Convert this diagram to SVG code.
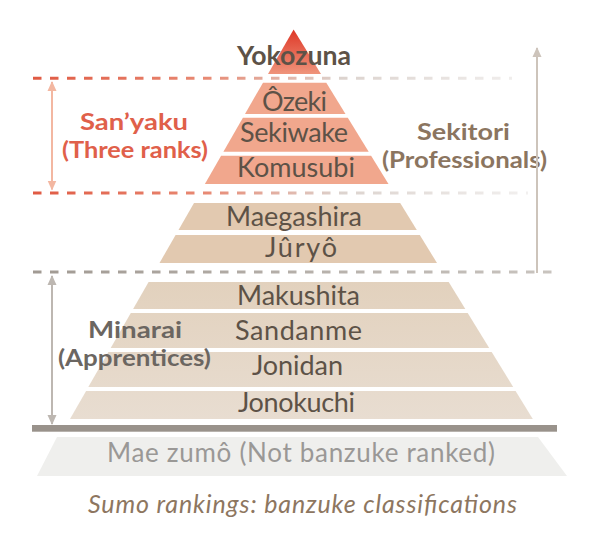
<svg xmlns="http://www.w3.org/2000/svg" width="595" height="542" viewBox="0 0 595 542">
<defs>
<linearGradient id="gYoko" x1="0" y1="29" x2="0" y2="74" gradientUnits="userSpaceOnUse">
<stop offset="0" stop-color="#de3626"/><stop offset="1" stop-color="#ef947b"/>
</linearGradient>
<linearGradient id="gLow" x1="0" y1="282" x2="0" y2="419" gradientUnits="userSpaceOnUse">
<stop offset="0" stop-color="#e2d1bd"/><stop offset="1" stop-color="#e8ddd1"/>
</linearGradient>
<linearGradient id="gDashRed" x1="33" y1="0" x2="530" y2="0" gradientUnits="userSpaceOnUse">
<stop offset="0" stop-color="#e05a43"/><stop offset="0.35" stop-color="#e88a74"/><stop offset="0.62" stop-color="#dcd3ce"/><stop offset="1" stop-color="#f2f0ef"/>
</linearGradient>
<linearGradient id="gDashGray" x1="33" y1="0" x2="557" y2="0" gradientUnits="userSpaceOnUse">
<stop offset="0" stop-color="#a19a93"/><stop offset="1" stop-color="#c9c4bf"/>
</linearGradient>
<marker id="headRed" viewBox="0 0 10 10" refX="9" refY="5" markerWidth="5" markerHeight="5" orient="auto-start-reverse" markerUnits="strokeWidth">
<path d="M0,0.5 L10,5 L0,9.5 Z" fill="#f3b7a1"/>
</marker>
<marker id="headGray" viewBox="0 0 10 10" refX="9" refY="5" markerWidth="5" markerHeight="5" orient="auto-start-reverse" markerUnits="strokeWidth">
<path d="M0,0.5 L10,5 L0,9.5 Z" fill="#bdb7b1"/>
</marker>
<marker id="headTan" viewBox="0 0 10 10" refX="9" refY="5" markerWidth="5" markerHeight="5" orient="auto-start-reverse" markerUnits="strokeWidth">
<path d="M0,0.5 L10,5 L0,9.5 Z" fill="#cdc4bb"/>
</marker>
</defs>
<style>
.rank{font-family:Lato,"Liberation Sans",sans-serif;font-size:27px;fill:#5d5247;text-anchor:middle}
.lbl{font-family:Lato,"Liberation Sans",sans-serif;font-size:23px;font-weight:bold;text-anchor:middle}
.salmon{fill:#f1a78d}
.tan{fill:#e2c9b0}
.low{fill:url(#gLow)}
.dash{stroke-width:3;stroke-dasharray:8.5 8.5;fill:none}
</style>
<rect width="595" height="542" fill="#ffffff"/>

<g id="separators">
<line class="dash" x1="33" y1="78.3" x2="512" y2="78.3" stroke="url(#gDashRed)"/>
<line class="dash" x1="33" y1="193" x2="528" y2="193" stroke="url(#gDashRed)"/>
<line class="dash" x1="33" y1="272" x2="557" y2="272" stroke="url(#gDashGray)"/>
</g>

<g id="yokozuna">
<polygon points="293.6,29.4 321,74 268,74" fill="url(#gYoko)"/>
<text x="294" y="65" class="rank" style="font-weight:bold;font-size:26px" textLength="114" lengthAdjust="spacingAndGlyphs">Yokozuna</text>
</g>
<g id="ozeki">
<polygon class="salmon" points="263,82.7 326.3,82.7 345.5,114 245,114"/>
<text x="294.5" y="110.5" class="rank" textLength="65">Ôzeki</text>
</g>
<g id="sekiwake">
<polygon class="salmon" points="242.9,117.7 347.8,117.7 368.7,151.7 223.4,151.7"/>
<text x="294" y="142" class="rank" textLength="108">Sekiwake</text>
</g>
<g id="komusubi">
<polygon class="salmon" points="221.1,155.7 371.1,155.7 388.5,184 204.9,184"/>
<text x="296" y="177" class="rank" textLength="118">Komusubi</text>
</g>
<g id="maegashira">
<polygon class="tan" points="194,203 400.2,203 416.8,230 178.5,230"/>
<text x="294" y="226" class="rank" textLength="136">Maegashira</text>
</g>
<g id="juryo">
<polygon class="tan" points="175.6,235 419.8,235 437,263 159.5,263"/>
<text x="301" y="256.7" class="rank" textLength="72">Jûryô</text>
</g>
<g id="makushita">
<polygon class="low" points="148.6,282 448.7,282 465.3,309 133.1,309"/>
<text x="298.5" y="305" class="rank" textLength="123">Makushita</text>
</g>
<g id="sandanme">
<polygon class="low" points="130.8,313 467.7,313 489.2,348 110.7,348"/>
<text x="298.5" y="340" class="rank" textLength="127">Sandanme</text>
</g>
<g id="jonidan">
<polygon class="low" points="108.4,352 491.7,352 513.2,387 88.3,387"/>
<text x="297.5" y="375" class="rank" textLength="91">Jonidan</text>
</g>
<g id="jonokuchi">
<polygon class="low" points="86.1,391 515.6,391 532.8,419 70,419"/>
<text x="296.5" y="411.5" class="rank" textLength="117">Jonokuchi</text>
</g>

<g id="base-bar">
<rect x="32" y="425" width="525" height="6.7" fill="#99928b"/>
</g>
<g id="mae-zumo">
<polygon points="57,437 538,437 567,476 37,476" fill="#efefed"/>
<text x="301" y="462" class="rank" style="fill:#9a9896;font-size:26px" textLength="388">Mae zumô (Not banzuke ranked)</text>
</g>

<g id="sanyaku-label">
<text x="134" y="130" class="lbl" fill="#e0604a" textLength="108" lengthAdjust="spacingAndGlyphs">San’yaku</text>
<text x="135" y="158" class="lbl" fill="#e0604a" textLength="146" lengthAdjust="spacingAndGlyphs">(Three ranks)</text>
</g>
<g id="sekitori-label">
<text x="463.5" y="140" class="lbl" fill="#8b7560" textLength="93" lengthAdjust="spacingAndGlyphs">Sekitori</text>
<text x="464.5" y="168" class="lbl" fill="#8b7560" textLength="165" lengthAdjust="spacingAndGlyphs">(Professionals)</text>
</g>
<g id="minarai-label">
<text x="135" y="338" class="lbl" fill="#6b6661" textLength="94" lengthAdjust="spacingAndGlyphs">Minarai</text>
<text x="134.5" y="366" class="lbl" fill="#6b6661" textLength="153" lengthAdjust="spacingAndGlyphs">(Apprentices)</text>
</g>

<g id="connectors" fill="none" stroke-width="2">
<line x1="52" y1="82" x2="52" y2="189.5" stroke="#f3b7a1" marker-start="url(#headRed)" marker-end="url(#headRed)"/>
<line x1="52" y1="276" x2="52" y2="424" stroke="#bdb7b1" marker-start="url(#headGray)" marker-end="url(#headGray)"/>
<line x1="537" y1="48" x2="537" y2="273" stroke="#cdc4bb" marker-start="url(#headTan)"/>
</g>

<g id="caption">
<text x="302.5" y="513" textLength="429" style="font-family:Lato,'Liberation Sans',sans-serif;font-size:25px;font-style:italic;fill:#8d7660;text-anchor:middle">Sumo rankings: banzuke classifications</text>
</g>
</svg>
